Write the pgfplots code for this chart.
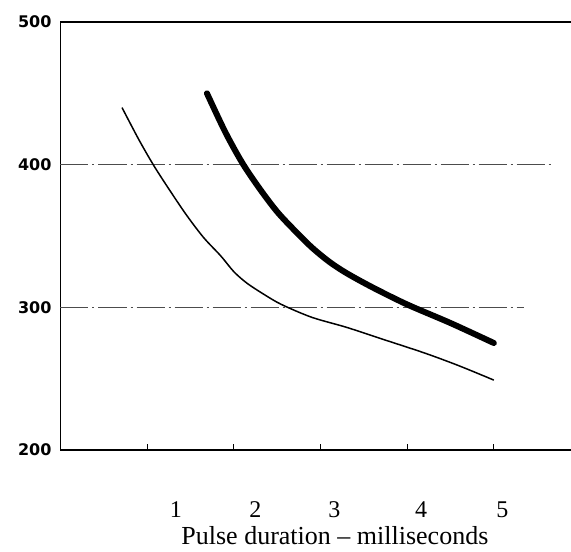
\documentclass[border=0pt]{standalone}
\usepackage{fontspec}
\setmainfont{Liberation Serif}
\newfontfamily\ysans{DejaVu Sans}
\usepackage{pgfplots}
\pgfplotsset{compat=1.18}

\begin{document}
\begin{tikzpicture}
\path[use as bounding box] (-30.25pt,-50.5pt) rectangle (255.25pt,225pt);
\begin{axis}[
    scale only axis, width=255pt, height=214pt,
    xmin=0, xmax=5.885, ymin=200, ymax=500,
    axis x line*=bottom, axis y line*=left,
    axis line style={line width=0.7pt, -},
    xtick={1,2,3,4,5}, xticklabels={},
    extra x ticks={1.33,2.25,3.16,4.16,5.10},
    extra x tick labels={1,2,3,4,5},
    extra x tick style={major tick length=0pt,
        xticklabel style={anchor=center, yshift=-30pt}},
    tick align=inside, major tick length=3pt,
    x tick style={line width=0.6pt, black},
    ytick={200,300,400,500}, yticklabels={200,300,400,500},
    y tick style={draw=none},
    yticklabel style={font=\ysans\bfseries\fontsize{8}{9}\selectfont, xshift=-1pt},
    xticklabel style={font=\fontsize{12}{14}\selectfont},
    xlabel={Pulse duration -- milliseconds},
    xlabel style={font=\fontsize{13}{15}\selectfont,
        at={(axis description cs:0.538,0)}, anchor=center, yshift=-43pt},
    clip=false,
]
% frame line at the top
\addplot[black, line width=0.7pt] coordinates {(0,500) (5.885,500)};
% broken reference lines
\addplot[gray!60!black, line width=0.6pt,
    dash pattern=on 14pt off 2pt on 1pt off 2pt] coordinates {(0,400) (5.70,400)};
\addplot[gray!60!black, line width=0.6pt,
    dash pattern=on 14pt off 2pt on 1pt off 2pt] coordinates {(0,300) (5.35,300)};
% thin curve
\addplot[black, line width=0.75pt, smooth] coordinates {
    (0.71,440) (0.90,418) (1.07,400) (1.25,383) (1.45,365) (1.65,349)
    (1.85,336) (2.00,325) (2.15,317) (2.35,309) (2.55,302) (2.90,293)
    (3.30,286) (3.70,278) (4.20,268) (4.60,259) (5.00,249)
};
% thick curve
\addplot[black, line width=3pt, smooth, line cap=round] coordinates {
    (1.69,450) (1.90,423) (2.10,401) (2.30,383) (2.50,367) (2.70,354)
    (2.90,342) (3.10,332) (3.30,324) (3.60,314) (4.00,302) (4.50,289)
    (5.00,275)
};
\end{axis}
\end{tikzpicture}
\end{document}
